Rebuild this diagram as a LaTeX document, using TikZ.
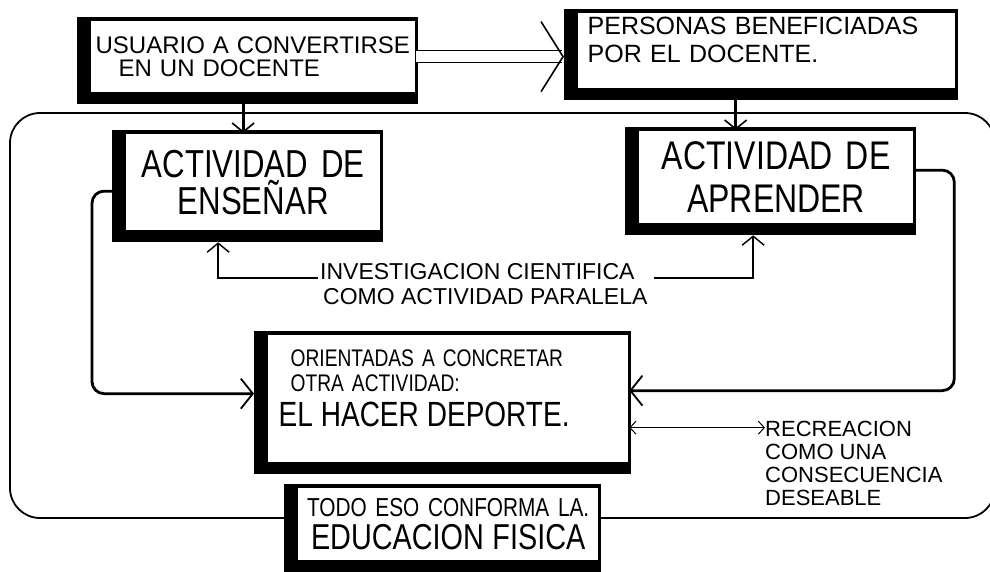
\documentclass[tikz,border=0pt]{standalone}
\usepackage{fontspec}
\setmainfont{Liberation Sans}
\newfontfamily\handnarrow[FakeStretch=0.8]{Liberation Sans}
\usetikzlibrary{arrows.meta}
\pgfdeclarelayer{background}
\pgfsetlayers{background,main}
\newcommand\handsize[2]{\fontsize{#1}{#2}\selectfont}

\begin{document}
\begin{tikzpicture}[x=1pt,y=-1pt,
sketchbox/.style={
  draw=black,
  line width=1.3pt,
  fill=white,
  inner sep=0pt,
  anchor=north west},
slab/.style={fill=black},
frame/.style={draw=black, line width=1.8pt, rounded corners=30pt},
loopline/.style={line width=2.8pt, rounded corners=12pt,
  -{Straight Barb[length=12pt,width=30pt,line width=1.8pt]}},
feed/.style={line width=3pt,
  -{Straight Barb[length=9pt,width=22pt,line width=1.6pt]}},
wide/.style={double, double distance=11pt, line width=1.3pt,
  -{Straight Barb[length=22pt,width=70pt,line width=1.6pt]}},
invline/.style={line width=1.8pt,
  -{Straight Barb[length=9pt,width=22pt,line width=1.4pt]}},
recline/.style={line width=1pt,
  {Straight Barb[length=6pt,width=13pt]}-{Straight Barb[length=6pt,width=13pt]}},
]
\useasboundingbox (0,0) rectangle (990,571);

% boxes
\node[sketchbox,minimum width=325,minimum height=72,text width=315,inner xsep=5pt,
  align=left,font=\handsize{24}{23}] (USU) at (90,20)
  {USUARIO A CONVERTIRSE\\\hspace*{23pt}EN UN DOCENTE};
\node[sketchbox,minimum width=378,minimum height=76,text width=358,inner xsep=10pt,
  align=left,font=\handsize{25}{28}] (BEN) at (577,12)
  {PERSONAS BENEFICIADAS\\POR EL DOCENTE.\\[-6pt]\mbox{}};
\node[sketchbox,minimum width=255,minimum height=97,text width=255,
  align=center,font=\handnarrow\handsize{39}{37}] (ENS) at (125,133)
  {ACTIVIDAD DE\\ENSEÑAR};
\node[sketchbox,minimum width=275,minimum height=93,text width=275,
  align=center,font=\handnarrow\handsize{40}{43}] (APR) at (638,130)
  {ACTIVIDAD DE\\APRENDER};
\node[sketchbox,minimum width=361,minimum height=128,text width=339,inner xsep=11pt,
  align=left,font=\handnarrow\handsize{24}{25}] (DEP) at (267,334)
  {\hspace*{12pt}ORIENTADAS A CONCRETAR\\\hspace*{12pt}OTRA ACTIVIDAD:\\[10pt]
   {\handsize{35}{30}EL HACER DEPORTE.}\\[-3pt]\mbox{}};
\node[sketchbox,minimum width=301,minimum height=73,text width=301,
  align=center,font=\handnarrow\handsize{26}{33}] (EDU) at (297,487)
  {TODO ESO CONFORMA LA.\\{\handsize{36}{33}EDUCACION FISICA}};

% labels
\node[inner sep=0pt,anchor=west,align=left,font=\handsize{23}{25}] (INV) at (320,284)
  {INVESTIGACION CIENTIFICA\\\hspace*{3pt}COMO ACTIVIDAD PARALELA};
\node[inner sep=0pt,anchor=north west,align=left,font=\handsize{22}{23}] (REC) at (765,421)
  {RECREACION\\COMO UNA\\CONSECUENCIA\\DESEABLE};

% connectors
\draw[wide] (USU.east) -- ([xshift=-13pt]USU.east -| BEN.west);
\draw[feed] ([xshift=-10pt,yshift=-11pt]USU.south) -- ([xshift=-10pt]ENS.north);
\draw[feed] ([xshift=-31pt,yshift=-11pt]BEN.south) -- ([xshift=-31pt]BEN.south |- APR.north);
\draw[invline] ([xshift=-2pt,yshift=6pt]INV.west) -| ([xshift=-35pt,yshift=-11pt]ENS.south);
\draw[invline] ([xshift=6pt,yshift=6pt]INV.east) -| ([xshift=-23pt,yshift=-11pt]APR.south);
\draw[loopline] ([xshift=-13pt,yshift=-9pt]ENS.west) -- ++(-20,0) |- ([xshift=-13pt,yshift=5pt]DEP.west);
\draw[loopline] ([yshift=7pt]APR.east) -- ++(40,0) |- ([yshift=8pt]DEP.east);
\draw[recline] ([yshift=-29pt]DEP.east) -- ([yshift=-29pt]DEP.east -| REC.west);

\begin{pgfonlayer}{background}
\draw[frame] (10,113) rectangle (995,518);
\foreach \b in {USU,BEN,ENS,APR,DEP,EDU}
  \fill[slab] ([shift={(-13,-3)}]\b.north west) rectangle ([shift={(2,11)}]\b.south east);
\end{pgfonlayer}
\end{tikzpicture}
\end{document}
